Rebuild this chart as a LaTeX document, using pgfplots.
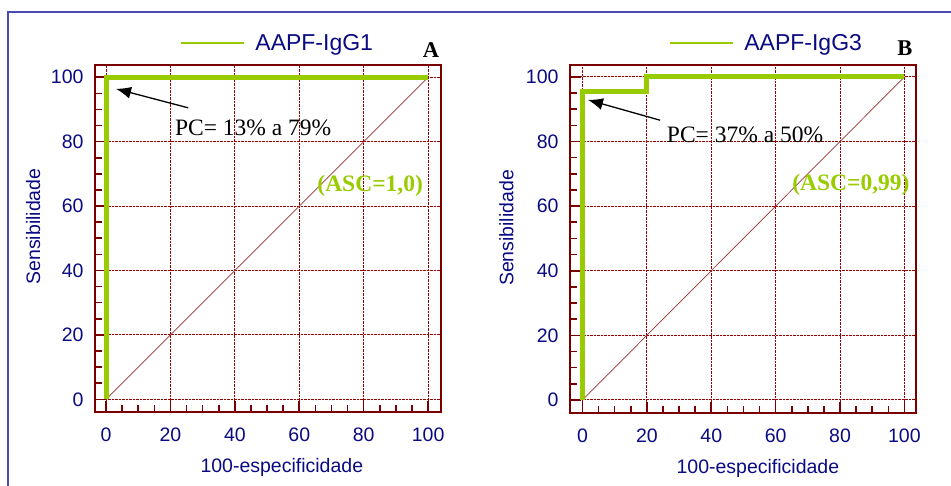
\documentclass[border=0pt]{standalone}
\usepackage{pgfplots}
\pgfplotsset{compat=1.18}
\usepackage{fontspec}
\setmainfont{Liberation Sans}
\newfontfamily\tnr{Liberation Serif}
\usetikzlibrary{arrows.meta}
\definecolor{navy}{HTML}{0A0A82}
\definecolor{roc}{HTML}{99CC00}
\definecolor{framec}{HTML}{7A0000}
\definecolor{gridc}{HTML}{990000}
\definecolor{diagc}{HTML}{993333}
\definecolor{border}{HTML}{4A4AB0}

\pgfplotsset{rocstyle/.style={
  scale only axis, width=346pt, height=347pt, clip=false,
  axis line style={framec, line width=2.8pt},
  xtick={0,20,...,100}, ytick={0,20,...,100},
  minor x tick num=3, minor y tick num=3,
  tick pos=left, tick align=inside,
  major tick length=11pt, minor tick length=7pt,
  tick style={framec, line width=1.6pt},
  grid=major, major grid style={gridc, densely dotted, line width=0.9pt},
  /pgf/number format/assume math mode=true,
  tick label style={font=\fontsize{19.5}{21}\selectfont, text=navy},
  xticklabel style={yshift=-12pt},
  yticklabel style={xshift=-8pt},
  label style={font=\fontsize{19.5}{22}\selectfont, text=navy},
  xlabel={100-especificidade}, ylabel={Sensibilidade},
  legend style={draw=none, fill=none, inner sep=0pt, anchor=west, font=\fontsize{23}{26}\selectfont, text=navy, /tikz/column sep=8pt},
  legend image code/.code={\draw[roc, line width=2.2pt] (0pt,0pt) -- (63pt,0pt);},
}}

\begin{document}
\begin{tikzpicture}[x=1pt,y=1pt]
\useasboundingbox (0,0) rectangle (951,486);
\fill[white] (0,0) rectangle (951,486);
\draw[border, line width=1.4pt] (8,0) -- (8,474) -- (951,474);

\begin{axis}[rocstyle, at={(95pt,74pt)}, anchor=south west,
  xmin=-3.42, xmax=104, ymin=-3.94, ymax=103.8,
  xlabel style={at={(axis description cs:0.540,-0.1585)}, anchor=center},
  ylabel style={at={(axis description cs:-0.179,0.5346)}, anchor=center},
  legend style={at={(axis description cs:0.2457,1.0634)}}]
\addplot[diagc, line width=0.7pt, forget plot] coordinates {(0,0) (100,100)};
\addplot[roc, line width=5pt, line join=miter] coordinates {(0,0) (0,100) (100,100)};
\addlegendentry{AAPF-IgG1}
\draw[-{Latex[length=15pt,width=12pt]}, line width=1.3pt] (axis cs:25.5,90.5) -- (axis cs:3.1,96.4);
\node[font=\tnr\fontsize{23.5}{25}\selectfont] at (axis cs:45.7,84.3) {PC= 13\% a 79\%};
\node[font=\tnr\bfseries\fontsize{23.5}{25}\selectfont, text=roc] at (axis cs:82,66.2) {(ASC=1,0)};
\node[font=\tnr\bfseries\fontsize{22.5}{24}\selectfont] at (axis description cs:0.971,1.043) {A};
\end{axis}

\begin{axis}[rocstyle, at={(570pt,73pt)}, anchor=south west, height=348pt,
  xmin=-3.88, xmax=103.6, ymin=-4.04, ymax=103.7,
  xlabel style={at={(axis description cs:0.543,-0.158)}, anchor=center},
  ylabel style={at={(axis description cs:-0.1835,0.5316)}, anchor=center},
  legend style={at={(axis description cs:0.286,1.063)}}]
\addplot[diagc, line width=0.7pt, forget plot] coordinates {(0,0) (100,100)};
\addplot[roc, line width=5pt, line join=miter] coordinates {(0,0) (0,95.5) (20,95.5) (20,100) (100,100)};
\addlegendentry{AAPF-IgG3}
\draw[-{Latex[length=15pt,width=12pt]}, line width=1.3pt] (axis cs:24.1,86.6) -- (axis cs:1.7,92.9);
\node[font=\tnr\fontsize{23.5}{25}\selectfont] at (axis cs:50.5,82) {PC= 37\% a 50\%};
\node[font=\tnr\bfseries\fontsize{23.5}{25}\selectfont, text=roc] at (axis cs:83.4,66.5) {(ASC=0,99)};
\node[font=\tnr\bfseries\fontsize{22.5}{24}\selectfont] at (axis description cs:0.968,1.047) {B};
\end{axis}
\end{tikzpicture}
\end{document}
